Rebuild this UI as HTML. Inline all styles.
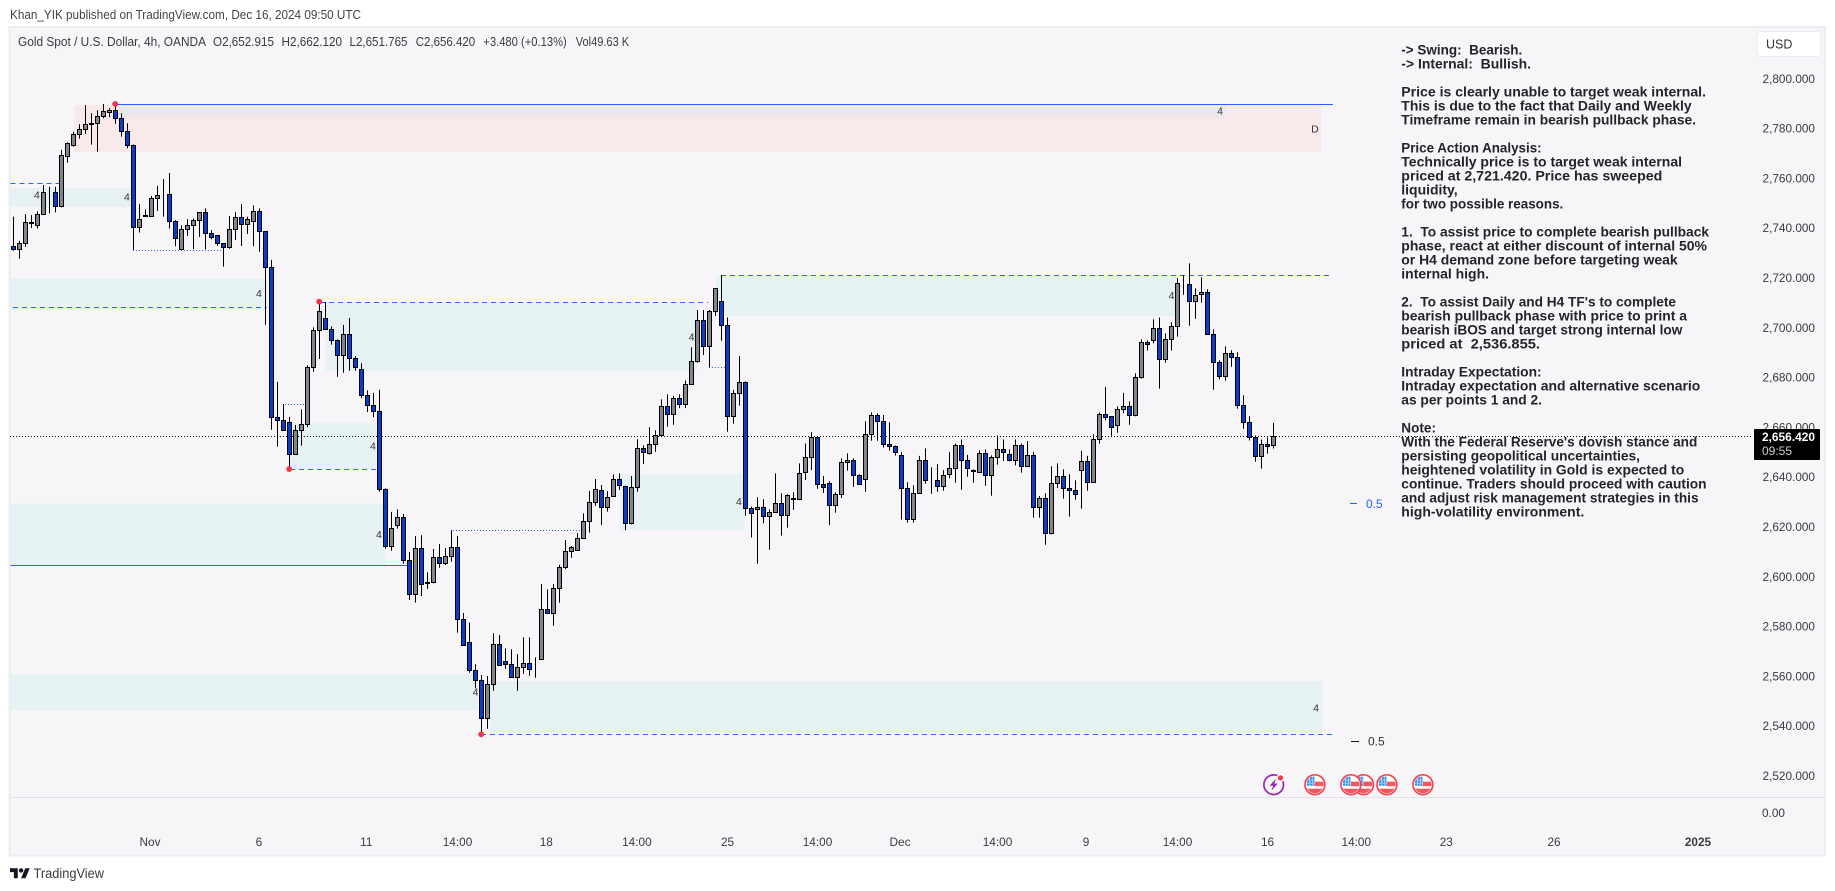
<!DOCTYPE html>
<html lang="en">
<head>
<meta charset="utf-8">
<title>Gold Spot / U.S. Dollar, 4h, OANDA</title>
<style>
html,body{margin:0;padding:0;background:#fff;width:1835px;height:891px;overflow:hidden}
svg{display:block}
text{font-family:"Liberation Sans",sans-serif}
.note{font-size:13.5px;font-weight:700;fill:#23232b}
.axis{font-size:11.8px;fill:#3a3a40}
.leg{font-size:12.8px;fill:#3a3a40}
</style>
</head>
<body>
<svg id="chart" width="1835" height="891" viewBox="0 0 1835 891" xmlns="http://www.w3.org/2000/svg">
  <text x="10" y="19" font-size="12.8" fill="#444" textLength="351" lengthAdjust="spacingAndGlyphs">Khan_YIK published on TradingView.com, Dec 16, 2024 09:50 UTC</text>
  <rect x="9.5" y="27" width="1815.5" height="828.5" fill="#f7f5f7" stroke="#edecf0" stroke-width="2"/>
  <line x1="10" x2="1824" y1="797.5" y2="797.5" stroke="#e3e1e7" stroke-width="1"/>
  <g id="zones"></g>
  <g id="levels"></g>
  <line id="last-price-line" x1="10" x2="1752" stroke="#000" stroke-width="1" stroke-dasharray="1 2"></line>
  <g id="candles"></g>
  <g id="swing-dots"></g>
  <g id="tf-labels"></g>
  <g id="price-axis"></g>
  <g id="time-axis"></g>
  <g id="events"></g>

  <g class="leg">
    <text x="18" y="46" textLength="188" lengthAdjust="spacingAndGlyphs">Gold Spot / U.S. Dollar, 4h, OANDA</text>
    <text x="213" y="46" textLength="61" lengthAdjust="spacingAndGlyphs">O2,652.915</text>
    <text x="281.5" y="46" textLength="60.5" lengthAdjust="spacingAndGlyphs">H2,662.120</text>
    <text x="349.5" y="46" textLength="58" lengthAdjust="spacingAndGlyphs">L2,651.765</text>
    <text x="415.7" y="46" textLength="59.5" lengthAdjust="spacingAndGlyphs">C2,656.420</text>
    <text x="483.3" y="46" textLength="83.5" lengthAdjust="spacingAndGlyphs">+3.480 (+0.13%)</text>
    <text x="575.7" y="46" textLength="53.5" lengthAdjust="spacingAndGlyphs">Vol49.63 K</text>
  </g>

  <g class="note">
    <text x="1401.3" y="54.5" textLength="121" lengthAdjust="spacingAndGlyphs" xml:space="preserve">-&gt; Swing:  Bearish.</text>
    <text x="1401.3" y="68.5" textLength="129.7" lengthAdjust="spacingAndGlyphs" xml:space="preserve">-&gt; Internal:  Bullish.</text>
    <text x="1401.3" y="96.5" textLength="304.7" lengthAdjust="spacingAndGlyphs">Price is clearly unable to target weak internal.</text>
    <text x="1401.3" y="110.5" textLength="290.3" lengthAdjust="spacingAndGlyphs">This is due to the fact that Daily and Weekly</text>
    <text x="1401.3" y="124.5" textLength="294.7" lengthAdjust="spacingAndGlyphs">Timeframe remain in bearish pullback phase.</text>
    <text x="1401.3" y="152.5" textLength="140.3" lengthAdjust="spacingAndGlyphs">Price Action Analysis:</text>
    <text x="1401.3" y="166.5" textLength="280.7" lengthAdjust="spacingAndGlyphs">Technically price is to target weak internal</text>
    <text x="1401.3" y="180.5" textLength="261" lengthAdjust="spacingAndGlyphs">priced at 2,721.420. Price has sweeped</text>
    <text x="1401.3" y="194.5" textLength="56.3" lengthAdjust="spacingAndGlyphs">liquidity,</text>
    <text x="1401.3" y="208.5" textLength="162" lengthAdjust="spacingAndGlyphs">for two possible reasons.</text>
    <text x="1401.3" y="236.5" textLength="307.7" lengthAdjust="spacingAndGlyphs" xml:space="preserve">1.  To assist price to complete bearish pullback</text>
    <text x="1401.3" y="250.5" textLength="305.7" lengthAdjust="spacingAndGlyphs">phase, react at either discount of internal 50%</text>
    <text x="1401.3" y="264.5" textLength="276.3" lengthAdjust="spacingAndGlyphs">or H4 demand zone before targeting weak</text>
    <text x="1401.3" y="278.5" textLength="87.7" lengthAdjust="spacingAndGlyphs">internal high.</text>
    <text x="1401.3" y="306.5" textLength="274.7" lengthAdjust="spacingAndGlyphs" xml:space="preserve">2.  To assist Daily and H4 TF's to complete</text>
    <text x="1401.3" y="320.5" textLength="285.7" lengthAdjust="spacingAndGlyphs">bearish pullback phase with price to print a</text>
    <text x="1401.3" y="334.5" textLength="281" lengthAdjust="spacingAndGlyphs">bearish iBOS and target strong internal low</text>
    <text x="1401.3" y="348.5" textLength="138.7" lengthAdjust="spacingAndGlyphs" xml:space="preserve">priced at  2,536.855.</text>
    <text x="1401.3" y="376.5" textLength="140.3" lengthAdjust="spacingAndGlyphs">Intraday Expectation:</text>
    <text x="1401.3" y="390.5" textLength="299" lengthAdjust="spacingAndGlyphs">Intraday expectation and alternative scenario</text>
    <text x="1401.3" y="404.5" textLength="140.7" lengthAdjust="spacingAndGlyphs">as per points 1 and 2.</text>
    <text x="1401.3" y="432.5" textLength="34.7" lengthAdjust="spacingAndGlyphs">Note:</text>
    <text x="1401.3" y="446.5" textLength="296" lengthAdjust="spacingAndGlyphs">With the Federal Reserve's dovish stance and</text>
    <text x="1401.3" y="460.5" textLength="238.7" lengthAdjust="spacingAndGlyphs">persisting geopolitical uncertainties,</text>
    <text x="1401.3" y="474.5" textLength="283" lengthAdjust="spacingAndGlyphs">heightened volatility in Gold is expected to</text>
    <text x="1401.3" y="488.5" textLength="305.3" lengthAdjust="spacingAndGlyphs">continue. Traders should proceed with caution</text>
    <text x="1401.3" y="502.5" textLength="297.3" lengthAdjust="spacingAndGlyphs">and adjust risk management strategies in this</text>
    <text x="1401.3" y="516.5" textLength="183" lengthAdjust="spacingAndGlyphs">high-volatility environment.</text>
  </g>

  <g>
    <line x1="1350" x2="1357" y1="503.5" y2="503.5" stroke="#2962ff"/>
    <text x="1366" y="508" font-size="12" fill="#2962ff">0.5</text>
  </g>
  <g>
    <line x1="1351" x2="1359" y1="741.5" y2="741.5" stroke="#111"/>
    <text x="1368" y="745.5" font-size="12" fill="#333">0.5</text>
  </g>

  <g>
    <rect x="1757" y="31.5" width="64" height="25" rx="4" fill="#fff" stroke="#e9e8ee"/>
    <text x="1766" y="48.5" font-size="12.5" fill="#333">USD</text>
  </g>

  <g>
    <rect x="1754" y="429" width="66" height="31" rx="1" fill="#000"/>
    <text x="1762" y="441" font-size="12" font-weight="700" fill="#fff" textLength="53" lengthAdjust="spacingAndGlyphs">2,656.420</text>
    <text x="1762" y="455" font-size="12" fill="#ccc">09:55</text>
  </g>
  <text class="axis" x="1762" y="817">0.00</text>

  <g>
    <g transform="translate(10 866) scale(.555)">
      <path d="M14 22H7V11H0V4h14v18z" fill="#131722"/>
      <path d="M28 22h-8l7.5-18h8L28 22z" fill="#131722"/>
      <circle cx="20" cy="8" r="4" fill="#131722"/>
    </g>
    <text x="33.5" y="878" font-size="14" fill="#3a3a40" textLength="70.5" lengthAdjust="spacingAndGlyphs">TradingView</text>
  </g>
</svg>

<script>
const opens = [
2733.0,2731.6,2734.2,2742.6,2741.3,2745.8,2754.6,2754.6,2749.0,2769.1,
2773.4,2777.9,2780.0,2782.0,2782.2,2785.2,2786.6,2787.6,2784.4,2779.0,
2773.5,2740.5,2745.1,2744.9,2752.2,2753.8,2753.8,2743.0,2731.8,2739.8,
2741.4,2743.4,2746.6,2738.2,2737.4,2734.2,2732.6,2739.8,2744.6,2741.8,
2743.0,2747.0,2739.0,2724.5,2664.3,2663.1,2662.3,2649.4,2659.1,2661.5,
2684.4,2699.2,2704.0,2699.6,2695.2,2689.2,2697.6,2688.0,2683.6,2673.1,
2669.1,2666.7,2635.4,2612.5,2620.9,2624.1,2606.9,2593.2,2611.7,2597.9,
2598.0,2608.1,2605.7,2608.5,2612.2,2583.2,2573.9,2562.5,2558.7,2543.4,
2557.1,2573.1,2566.3,2564.9,2559.7,2563.9,2565.5,2563.0,2567.1,2587.2,
2585.4,2595.6,2604.1,2610.3,2610.7,2615.6,2622.5,2630.2,2635.0,2628.1,
2632.6,2639.4,2636.6,2621.7,2636.2,2651.8,2649.8,2653.4,2657.1,2668.7,
2665.5,2671.9,2669.5,2677.5,2686.8,2703.2,2692.8,2706.9,2710.9,2701.2,
2664.7,2673.9,2678.3,2627.7,2627.3,2628.1,2624.5,2626.1,2629.7,2624.9,
2631.4,2631.4,2642.2,2648.2,2656.3,2637.4,2637.8,2628.9,2633.4,2646.2,
2647.0,2641.0,2639.4,2657.5,2665.1,2662.7,2653.4,2652.6,2649.0,2635.8,
2623.3,2633.8,2647.0,2639.0,2639.0,2636.6,2641.4,2643.8,2653.0,2647.0,
2642.7,2642.2,2649.8,2641.0,2648.2,2651.4,2649.4,2647.0,2653.0,2644.6,
2649.0,2628.1,2631.8,2617.7,2637.8,2640.6,2635.8,2635.0,2643.0,2646.6,
2638.2,2655.4,2665.5,2664.7,2661.1,2667.5,2668.7,2665.1,2680.3,2694.4,
2695.2,2700.0,2687.6,2695.6,2700.8,2718.1,2717.7,2710.9,2713.7,2714.5,
2697.6,2686.4,2680.8,2690.0,2688.4,2669.1,2662.3,2656.2,2648.6,2653.4,2652.915];
const highs = [
2744.9,2735.2,2745.9,2745.5,2747.0,2757.6,2756.9,2756.9,2771.7,2774.7,
2779.0,2782.0,2789.7,2786.4,2787.6,2790.1,2788.4,2790.0,2786.4,2782.4,
2773.9,2750.0,2747.8,2753.2,2757.3,2760.0,2762.4,2743.5,2741.5,2743.9,
2744.2,2746.6,2748.2,2739.5,2737.4,2734.2,2745.1,2746.8,2750.0,2744.9,
2749.4,2748.2,2739.1,2727.5,2678.5,2669.6,2664.4,2661.2,2667.5,2685.2,
2700.4,2710.6,2710.6,2700.8,2695.6,2701.4,2704.2,2688.9,2686.0,2675.1,
2674.1,2675.3,2635.8,2626.3,2627.3,2625.5,2610.2,2616.6,2617.0,2602.0,
2611.4,2613.4,2611.8,2619.0,2616.6,2585.7,2581.8,2565.1,2560.8,2560.4,
2577.6,2576.9,2571.5,2571.2,2569.2,2575.9,2575.9,2567.9,2597.3,2595.2,
2597.3,2605.1,2615.0,2612.6,2617.7,2625.7,2634.7,2639.5,2637.1,2634.7,
2641.4,2641.8,2636.8,2640.7,2655.5,2653.0,2660.3,2659.1,2671.5,2673.5,
2672.9,2673.5,2679.1,2692.4,2707.4,2707.4,2707.4,2716.1,2721.42,2704.4,
2675.3,2688.9,2678.7,2628.4,2632.2,2631.4,2627.3,2641.8,2633.8,2633.4,
2634.2,2645.8,2653.8,2658.3,2656.7,2640.7,2638.6,2634.2,2647.8,2649.8,
2647.8,2641.4,2662.7,2666.3,2665.9,2665.2,2662.3,2653.0,2650.4,2638.2,
2637.0,2648.8,2651.8,2644.2,2645.5,2643.1,2650.4,2653.8,2655.4,2649.2,
2643.4,2651.0,2651.4,2649.0,2657.0,2655.4,2651.4,2655.4,2653.8,2654.8,
2650.4,2632.7,2633.8,2644.6,2645.8,2643.4,2641.5,2639.0,2650.8,2648.8,
2657.5,2666.3,2676.5,2664.7,2668.7,2674.1,2670.7,2682.0,2695.6,2695.2,
2703.6,2704.4,2698.0,2702.4,2720.2,2721.3,2726.1,2716.1,2720.5,2715.7,
2699.6,2687.2,2692.8,2691.2,2690.4,2673.1,2664.7,2657.0,2655.4,2656.2,2662.12];
const lows = [
2731.2,2728.0,2732.8,2740.3,2740.1,2745.5,2746.2,2746.6,2748.6,2766.6,
2773.0,2776.2,2778.1,2773.8,2771.0,2784.4,2784.8,2782.2,2777.0,2772.3,
2731.5,2738.5,2745.1,2744.9,2747.2,2744.9,2740.1,2733.0,2731.5,2737.1,
2731.8,2736.7,2731.8,2735.8,2733.1,2724.8,2732.0,2735.5,2733.1,2737.9,
2733.0,2730.8,2701.4,2659.3,2652.5,2659.1,2643.4,2649.3,2652.9,2660.3,
2682.6,2687.7,2699.4,2693.5,2680.6,2682.2,2683.0,2683.0,2672.0,2666.4,
2664.3,2634.4,2611.5,2610.7,2619.6,2605.5,2590.9,2589.9,2592.5,2595.3,
2597.6,2603.9,2605.0,2606.3,2577.8,2572.6,2561.7,2555.5,2536.855,2539.2,
2554.5,2564.5,2563.3,2559.7,2554.5,2561.2,2560.5,2559.7,2567.1,2585.4,
2580.6,2589.8,2603.3,2607.9,2610.7,2615.6,2618.0,2628.7,2621.0,2626.4,
2632.6,2635.1,2619.0,2621.3,2634.4,2645.5,2649.3,2650.4,2656.9,2660.5,
2661.3,2668.0,2668.0,2677.5,2686.2,2689.3,2684.4,2705.0,2695.1,2658.5,
2661.7,2669.0,2624.8,2616.0,2605.5,2621.7,2611.1,2626.1,2616.8,2620.0,
2627.1,2631.4,2639.1,2643.1,2635.6,2633.9,2621.0,2626.0,2631.9,2642.9,
2636.3,2637.4,2634.4,2654.9,2654.9,2652.1,2650.9,2648.9,2623.2,2622.0,
2622.0,2633.8,2637.6,2633.6,2634.4,2634.8,2639.8,2638.0,2635.2,2640.4,
2638.0,2642.2,2636.8,2632.8,2645.3,2646.7,2646.6,2645.0,2642.1,2644.6,
2624.0,2624.0,2613.1,2617.3,2635.9,2631.6,2624.4,2631.2,2627.6,2634.8,
2638.2,2653.7,2663.1,2656.9,2658.1,2665.9,2661.3,2664.7,2679.9,2691.1,
2694.0,2675.8,2686.2,2691.1,2696.7,2713.5,2701.1,2703.9,2710.3,2697.6,
2675.4,2679.5,2679.0,2684.6,2667.8,2659.7,2655.0,2646.5,2643.7,2649.7,2651.765];
const closes = [
2731.6,2734.2,2742.6,2742.2,2745.8,2754.6,2754.5,2749.0,2769.5,2774.3,
2777.9,2780.0,2782.0,2782.2,2785.2,2787.2,2787.6,2784.4,2779.0,2773.4,
2740.5,2743.8,2745.4,2752.2,2753.4,2753.9,2743.0,2736.2,2739.8,2741.4,
2743.4,2746.6,2738.2,2736.6,2734.0,2732.6,2739.8,2744.6,2741.8,2743.8,
2747.0,2739.0,2724.5,2664.3,2663.1,2659.1,2649.4,2659.1,2661.5,2684.4,
2699.2,2706.9,2699.6,2695.2,2689.2,2697.6,2688.0,2684.4,2673.1,2669.1,
2666.7,2635.4,2612.5,2619.7,2624.1,2606.9,2593.2,2611.7,2597.2,2597.5,
2608.1,2605.5,2608.5,2612.1,2583.2,2572.6,2562.5,2558.7,2543.4,2557.1,
2573.1,2564.5,2564.9,2559.7,2563.9,2565.5,2562.9,2563.2,2587.2,2585.4,
2595.6,2604.1,2610.5,2612.1,2615.6,2622.5,2630.2,2635.4,2628.1,2632.2,
2639.4,2637.0,2621.7,2636.2,2651.8,2650.2,2653.4,2657.1,2668.7,2665.5,
2671.9,2669.5,2677.5,2686.8,2703.2,2692.8,2706.9,2716.1,2701.2,2664.7,
2673.9,2678.3,2627.7,2625.7,2628.1,2624.5,2626.1,2629.7,2624.9,2633.0,
2631.6,2641.8,2648.2,2656.3,2637.4,2636.2,2628.9,2633.4,2646.2,2647.0,
2641.0,2637.4,2657.5,2665.1,2662.7,2653.4,2652.6,2650.2,2635.8,2623.3,
2633.8,2647.0,2639.0,2639.1,2636.6,2641.0,2643.8,2653.0,2647.0,2643.8,
2642.8,2649.8,2641.0,2648.2,2651.4,2650.2,2647.0,2653.0,2644.6,2649.0,
2628.1,2631.8,2617.7,2637.8,2640.6,2635.8,2635.0,2633.4,2646.6,2638.2,
2655.4,2665.5,2664.3,2660.3,2667.5,2668.7,2665.1,2680.3,2694.4,2693.6,
2700.0,2687.6,2695.6,2700.8,2718.1,2718.2,2710.9,2713.3,2714.5,2697.6,
2686.4,2680.8,2690.0,2688.4,2669.1,2662.3,2656.2,2648.6,2653.4,2652.6,2656.42];

const priceTicks = [2800,2780,2760,2740,2720,2700,2680,2660,2640,2620,2600,2580,2560,2540,2520];
const priceTickLabels = ["2,800.000","2,780.000","2,760.000","2,740.000","2,720.000","2,700.000","2,680.000","2,660.000","2,640.000","2,620.000","2,600.000","2,580.000","2,560.000","2,540.000","2,520.000"];
const timeTickBars = [22.75,40.9,58.8,74,88.8,103.9,119,134,147.75,164,178.75,194,209,223.8,238.8,256.75,280.75];
const timeTickLabels = ["Nov","6","11","14:00","18","14:00","25","14:00","Dec","14:00","9","14:00","16","14:00","23","26","2025"];

/* zones: startBar, endBar, topPrice, bottomPrice */
const supplyZones = [[10.1,217.9,2789.7,2770.85]];
const overlapZones = [[17.25,201.9,2789.7,2784.9]];
const demandZones = [
[-0.6,19.75,2756.5,2748.9],
[-0.6,42.25,2720.1,2707.4],
[52.1,113.9,2710.3,2683.0],
[46.1,60.5,2661.9,2643.5],
[-0.6,61.9,2629.5,2604.6],
[-0.6,77.4,2561.2,2546.7],
[79.4,218.1,2558.4,2537.5],
[101.1,121.9,2641.5,2619.0],
[117.1,193.9,2721.2,2705.0]];

/* levels: startBar, endBar, price */
const solidLevels = [[16.9,219.9,2790.0],[-0.6,65.6,2604.6]];
const dashedLevels = [[-0.6,7.6,2758.3],[-0.1,42.25,2708.3],[51.1,115.75,2710.5],[46.1,60.4,2643.4],[117.9,219.75,2721.42],[77.9,220,2536.855]];
const dottedLevels = [[19.9,34.75,2731.4],[45.25,48.6,2669.5],[73.25,94.4,2618.9],[115.9,118.6,2684.4]];

/* swing points: bar, price */
const swingPoints = [[17,2790.0],[51,2710.6],[46,2643.4],[78,2536.855]];
/* timeframe labels: bar, price, text */
const tfLabels = [[3.9,2753.6,"4"],[18.9,2752.8,"4"],[40.9,2714.2,"4"],[59.9,2652.8,"4"],[60.9,2617.4,"4"],[77,2554,"4"],[113,2696.7,"4"],[120.9,2630.7,"4"],[193,2713.4,"4"],[201.1,2787.5,"4"],[217.1,2547.6,"4"],[216.9,2780.3,"D"]];
const flagEventBars = [225,216.9,222.9,228.9,234.9];
const boltEventBars = [210];
const lastClose = 2656.42;

const SVGNS = "http://www.w3.org/2000/svg";
function xOf(bar){ return 13.5 + 6 * bar; }
function yOf(price){ return 79.4 + (2800 - price) * 2.49; }
function snap(v){ return Math.round(v) + 0.5; }
function make(tag, parent){
  const el = document.createElementNS(SVGNS, tag);
  parent.appendChild(el);
  return el;
}
function attrs(el, a){ for (const k in a) el.setAttribute(k, a[k]); return el; }

const zonesG = document.getElementById("zones");
function drawZones(list, fill){
  list.forEach(function(z){
    const r = make("rect", zonesG);
    
    
    const x0 = Math.max(10.5, xOf(z[0]));
    attrs(r, {x:x0, y:yOf(z[2]), width:xOf(z[1])-x0, height:yOf(z[3])-yOf(z[2]), fill:fill});
  });
}
drawZones(supplyZones, "#f8e9ea");
drawZones(overlapZones, "#ece7ea");
drawZones(demandZones, "#e6f1f3");

const levelsG = document.getElementById("levels");
function drawLevels(list, dash){
  list.forEach(function(l){
    const ln = make("line", levelsG);
    
    
    const y = snap(yOf(l[2]) - 0.5);
    attrs(ln, {x1:Math.max(10.5, xOf(l[0])), x2:xOf(l[1]), y1:y, y2:y, stroke:"#2962ff", "stroke-width":1});
    if (dash) ln.setAttribute("stroke-dasharray", dash);
  });
}
drawLevels(solidLevels, "");
drawLevels(dashedLevels, "5 4");
drawLevels(dottedLevels, "1 2");

const lastLine = document.getElementById("last-price-line");
lastLine.setAttribute("y1", snap(yOf(lastClose) - 0.5));
lastLine.setAttribute("y2", snap(yOf(lastClose) - 0.5));

const candlesG = document.getElementById("candles");
opens.forEach(function(o, i){
  const c = closes[i];
  const up = c >= o;
  const cx = xOf(i);
  const g = make("g", candlesG);
  
  
  const wick = make("line", g);
  
  
  attrs(wick, {x1:cx, x2:cx, y1:yOf(highs[i]), y2:yOf(lows[i]), stroke:"#000", "stroke-width":1});
  const top = snap(yOf(Math.max(o, c)) - 0.5);
  const bot = snap(yOf(Math.min(o, c)) - 0.5);
  const body = make("rect", g);
  
  
  attrs(body, {x:cx-2, y:top, width:4, height:bot-top, fill:up ? "#82858b" : "#0b3ccb", stroke:"#000", "stroke-width":1});
});

const dotsG = document.getElementById("swing-dots");
swingPoints.forEach(function(s){
  const d = make("circle", dotsG);
  
  
  attrs(d, {cx:xOf(s[0]) - 0.3, cy:yOf(s[1]) - 0.3, r:2.9, fill:"#f23645"});
});

const tfG = document.getElementById("tf-labels");
tfLabels.forEach(function(t){
  const el = make("text", tfG);
  
  
  attrs(el, {x:xOf(t[0]), y:yOf(t[1]) + 3.8, "text-anchor":"middle", "font-size":"10.5", fill:"#333"});
  el.textContent = t[2];
});

const priceG = document.getElementById("price-axis");
priceTicks.forEach(function(p, i){
  const el = make("text", priceG);
  
  
  attrs(el, {x:1815, y:yOf(p) + 3.4, "text-anchor":"end", "class":"axis"});
  el.textContent = priceTickLabels[i];
});

const timeG = document.getElementById("time-axis");
timeTickBars.forEach(function(b, i){
  const el = make("text", timeG);
  
  
  const bold = timeTickLabels[i] === "2025";
  attrs(el, {x:xOf(b), y:846, "text-anchor":"middle", "class":"axis"});
  if (bold) el.setAttribute("font-weight", "700");
  el.textContent = timeTickLabels[i];
});

const eventsG = document.getElementById("events");
const EVENT_Y = 784.7;
const clip = make("clipPath", eventsG);
clip.setAttribute("id", "flag-clip");
attrs(make("circle", clip), {cx:0, cy:0, r:8.6});
flagEventBars.forEach(function(b){
  const g = make("g", eventsG);
  
  
  g.setAttribute("transform", "translate(" + xOf(b) + " " + EVENT_Y + ")");
  attrs(make("circle", g), {r:9.9, fill:"#fff", stroke:"#f5424f", "stroke-width":1.7});
  const inner = make("g", g);
  inner.setAttribute("clip-path", "url(#flag-clip)");
  attrs(make("rect", inner), {x:-9, y:-9, width:18, height:18, fill:"#fff"});
  attrs(make("rect", inner), {x:-1, y:-3, width:10, height:4.5, fill:"#f2565f"});
  attrs(make("rect", inner), {x:-9, y:4, width:18, height:5, fill:"#f2565f"});
  attrs(make("rect", inner), {x:-8, y:-8, width:8, height:9, fill:"#2f8de8"});
  [-5.5,-3,-0.8].forEach(function(v){
    attrs(make("rect", inner), {x:v, y:-8, width:0.7, height:9, fill:"#cfe4fb"});
  });
  [-5,-2].forEach(function(v){
    attrs(make("rect", inner), {x:-8, y:v, width:8, height:0.7, fill:"#cfe4fb"});
  });
});
boltEventBars.forEach(function(b){
  const g = make("g", eventsG);
  
  
  g.setAttribute("transform", "translate(" + (xOf(b) + 0.2) + " " + EVENT_Y + ")");
  attrs(make("circle", g), {r:9.8, fill:"#f7f5f7", stroke:"#9c27b0", "stroke-width":1.7});
  attrs(make("path", g), {d:"M2.2 -6.2 L-4 1 L-0.6 1 L-2.2 6.2 L4 -1.2 L0.6 -1.2 Z", fill:"#9c27b0"});
  attrs(make("circle", g), {cx:6.8, cy:-6.8, r:4, fill:"#fff"});
  attrs(make("circle", g), {cx:6.8, cy:-6.8, r:2.6, fill:"#f23645"});
});
</script>
</body>
</html>
